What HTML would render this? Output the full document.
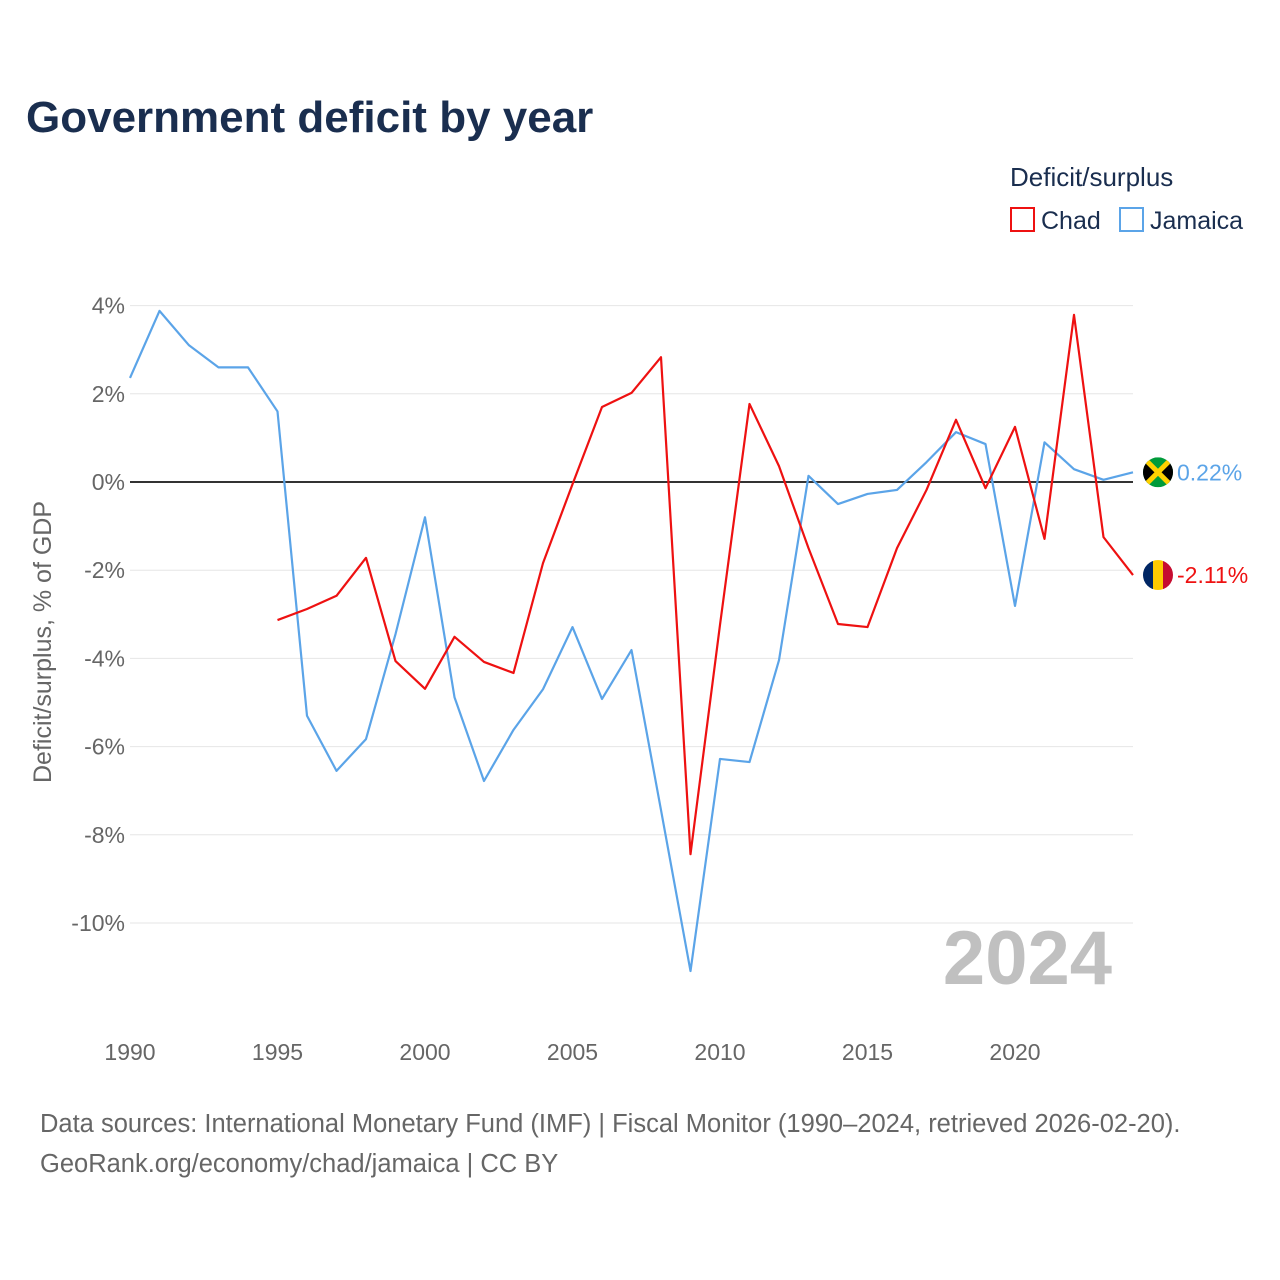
<!DOCTYPE html>
<html><head><meta charset="utf-8">
<style>
body{margin:0;background:#fff;font-family:"Liberation Sans",sans-serif;}
svg{display:block}
</style></head>
<body>
<svg id="chart" width="1280" height="1280" viewBox="0 0 1280 1280">
<text x="26" y="132" font-size="44" font-weight="bold" fill="#1a2e4f">Government deficit by year</text>
<text x="1010" y="186" font-size="26" fill="#1a2e4f">Deficit/surplus</text>
<g><rect x="1011" y="208" width="23" height="23" fill="none" stroke="#ee1111" stroke-width="2"/><text x="1041" y="229" font-size="25" fill="#1a2e4f">Chad</text></g>
<g><rect x="1120" y="208" width="23" height="23" fill="none" stroke="#5ba4e8" stroke-width="2"/><text x="1150" y="229" font-size="25" fill="#1a2e4f">Jamaica</text></g>
<text transform="translate(51,642) rotate(-90)" text-anchor="middle" font-size="25" fill="#666">Deficit/surplus, % of GDP</text>
<g id="grid"></g><g id="yt"></g><g id="xt"></g>
<text x="1112" y="984" text-anchor="end" font-size="76" font-weight="bold" fill="#c0c0c0">2024</text>
<g id="series"></g>
<text x="40" y="1132" font-size="25.5" fill="#666">Data sources: International Monetary Fund (IMF) | Fiscal Monitor (1990–2024, retrieved 2026-02-20).</text>
<text x="40" y="1172" font-size="25.5" fill="#666">GeoRank.org/economy/chad/jamaica | CC BY</text>
</svg>
<script>
const years=[];for(let y=1990;y<=2024;y++)years.push(y);
const jamaica=[2.36,3.88,3.1,2.6,2.6,1.6,-5.3,-6.55,-5.83,-3.45,-0.8,-4.88,-6.78,-5.62,-4.7,-3.29,-4.92,-3.81,-7.44,-11.09,-6.28,-6.35,-4.04,0.14,-0.5,-0.27,-0.18,0.45,1.13,0.86,-2.81,0.9,0.29,0.05,0.22];
const chadYears=years.slice(5);
const chad=[-3.13,-2.88,-2.58,-1.72,-4.06,-4.69,-3.51,-4.08,-4.33,-1.84,-0.05,1.7,2.02,2.83,-8.44,-3.24,1.77,0.36,-1.5,-3.22,-3.29,-1.5,-0.18,1.41,-0.14,1.25,-1.29,3.79,-1.25,-2.11];
const yTicks=[4,2,0,-2,-4,-6,-8,-10];
const xTicks=[1990,1995,2000,2005,2010,2015,2020];
const NS="http://www.w3.org/2000/svg";
const X=y=>130+(y-1990)*(1133-130)/34;
const Y=v=>482-v*44.1;
function mk(t,a,p){const e=document.createElementNS(NS,t);for(const k in a)e.setAttribute(k,a[k]);p.appendChild(e);return e;}
const grid=document.getElementById('grid'),yt=document.getElementById('yt'),xt=document.getElementById('xt'),ser=document.getElementById('series');
yTicks.forEach(v=>{
 const l=mk('line',{x1:130,x2:1133,y1:Y(v),y2:Y(v),stroke:v===0?'#333':'#e6e6e6','stroke-width':v===0?2:1},grid);
 
 
 const t=mk('text',{x:125,y:Y(v)+8,'text-anchor':'end','font-size':23,fill:'#666'},yt);t.textContent=v+'%';
 
 
});
xTicks.forEach(v=>{
 const t=mk('text',{x:X(v),y:1060,'text-anchor':'middle','font-size':23,fill:'#666'},xt);t.textContent=v;
 
 
});
function line(xs,vs,c,name){
 const p=mk('polyline',{points:xs.map((y,i)=>X(y)+','+Y(vs[i])).join(' '),fill:'none',stroke:c,'stroke-width':2.2,'stroke-linejoin':'round'},ser);
 
 
}
line(years,jamaica,'#5ba4e8','jamaica-line');
line(chadYears,chad,'#ee1111','chad-line');
const jv=jamaica[jamaica.length-1],cv=chad[chad.length-1];
const jy=Y(jv),cy=Y(cv);
const jg=mk('g',{},ser);


const cj=mk('clipPath',{id:'cj'},jg);mk('circle',{cx:1158,cy:jy,r:15},cj);
const jin=mk('g',{'clip-path':'url(#cj)'},jg);
mk('rect',{x:1143,y:jy-15,width:30,height:30,fill:'#009b3a'},jin);
mk('polygon',{points:`1143,${jy-15} 1158,${jy} 1143,${jy+15}`,fill:'#000'},jin);
mk('polygon',{points:`1173,${jy-15} 1158,${jy} 1173,${jy+15}`,fill:'#000'},jin);
mk('line',{x1:1143,y1:jy-15,x2:1173,y2:jy+15,stroke:'#fed100','stroke-width':5},jin);
mk('line',{x1:1173,y1:jy-15,x2:1143,y2:jy+15,stroke:'#fed100','stroke-width':5},jin);
const cg=mk('g',{},ser);


const cc=mk('clipPath',{id:'cc'},cg);mk('circle',{cx:1158,cy:cy,r:15},cc);
const cin=mk('g',{'clip-path':'url(#cc)'},cg);
mk('rect',{x:1143,y:cy-15,width:10,height:30,fill:'#002664'},cin);
mk('rect',{x:1153,y:cy-15,width:10,height:30,fill:'#fecb00'},cin);
mk('rect',{x:1163,y:cy-15,width:10,height:30,fill:'#c60c30'},cin);
const jl=mk('text',{x:1177,y:jy+8,'font-size':23,fill:'#5ba4e8'},ser);jl.textContent=jv.toFixed(2)+'%';


const cl=mk('text',{x:1177,y:cy+8,'font-size':23,fill:'#ee1111'},ser);cl.textContent=cv.toFixed(2)+'%';


</script>
</body></html>
